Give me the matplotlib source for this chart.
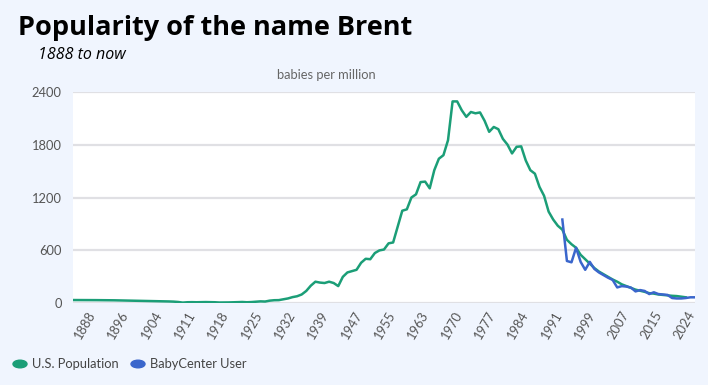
import matplotlib.pyplot as plt
import numpy as np

# U.S. population, babies per million, 1888-2022
us_years = list(range(1888, 2023))
us_values = [
    37, 37, 37, 36, 36, 36, 35, 35, 35, 34,          # 1888-1897
    33, 32, 31, 30, 29, 28, 27, 26, 25, 24,          # 1898-1907
    23, 21, 19, 15, 8, 12, 13, 12, 13, 14,           # 1908-1917
    13, 12, 9, 9, 10, 11, 13, 15, 12, 14,            # 1918-1927
    18, 22, 20, 30, 35, 36, 45, 55, 70, 80,          # 1928-1937
    100, 140, 200, 245, 235, 230, 245, 230, 195, 300,  # 1938-1947
    350, 365, 380, 460, 505, 500, 570, 600, 610, 680,  # 1948-1957
    690, 870, 1050, 1066, 1200, 1236, 1375, 1380, 1304, 1510,  # 1958-1967
    1640, 1680, 1850, 2290, 2290, 2190, 2115, 2170, 2155, 2165,  # 1968-1977
    2070, 1945, 2000, 1975, 1865, 1800, 1700, 1775, 1780, 1620,  # 1978-1987
    1510, 1470, 1320, 1220, 1040, 950, 880, 835, 720, 670,  # 1988-1997
    630, 550, 500, 450, 400, 360, 330, 300, 270, 245,  # 1998-2007
    215, 195, 175, 155, 143, 130, 115, 110, 100, 95,   # 2008-2017
    90, 85, 82, 75, 68,                                # 2018-2022
]

# BabyCenter users, 1995-2024
bc_years = list(range(1995, 2025))
bc_values = [
    950, 480, 465, 630, 470, 380, 470, 390, 350, 320,
    290, 265, 180, 195, 190, 178, 135, 150, 140, 105,
    125, 105, 100, 95, 60, 55, 55, 60, 68, 68,
]

tick_labels = ["1888", "1896", "1904", "1911", "1918", "1925", "1932",
               "1939", "1947", "1955", "1963", "1970", "1977", "1984",
               "1991", "1999", "2007", "2015", "2024"]
y_ticks = [0, 600, 1200, 1800, 2400]

GREEN = "#1b9e77"
BLUE = "#3a66cc"
BG = "#f0f5fe"
GREY = "#555555"

fig = plt.figure(figsize=(7.08, 3.85), dpi=100, facecolor=BG)
ax = fig.add_axes([0.1031, 0.2122, 0.8785, 0.5496])
ax.set_facecolor("white")

ax.plot(us_years, us_values, color=GREEN, lw=1.8, solid_joinstyle="round",
        zorder=3)
ax.plot(bc_years, bc_values, color=BLUE, lw=1.8, solid_joinstyle="round",
        zorder=4)

ax.set_xlim(1888, 2024)
ax.set_ylim(0, 2400)
ax.set_yticks(y_ticks)
ax.set_yticklabels([str(v) for v in y_ticks], fontfamily="Lato",
                   fontsize=9.3, color=GREY)
ax.yaxis.grid(True, color="#e0e0e4", lw=1.6, zorder=0)
ax.set_axisbelow(True)
for s in ax.spines.values():
    s.set_visible(False)
ax.tick_params(axis="y", length=0, pad=8)

tick_pos = np.linspace(1890.6, 2021.8, len(tick_labels))
ax.set_xticks(tick_pos)
ax.set_xticklabels(tick_labels, rotation=60, ha="center", va="top",
                   fontfamily="Lato", fontsize=9.3, color=GREY)
ax.tick_params(axis="x", length=0, pad=4)

fig.text(18 / 708, 1 - 35 / 385, "Popularity of the name Brent",
         fontfamily="Open Sans", fontweight="bold", fontsize=19.5,
         color="black", va="baseline")
fig.text(38 / 708, 1 - 59 / 385, "1888 to now", fontfamily="Open Sans",
         fontstyle="italic", fontsize=11.5, color="black", va="baseline")
fig.text(326 / 708, 1 - 75 / 385, "babies per million", fontfamily="Lato",
         fontsize=9.3, color="#666666", ha="center", va="center")

# legend
for cx, col, label in [(20, GREEN, "U.S. Population"),
                       (138, BLUE, "BabyCenter User")]:
    fig.patches.append(plt.Circle((cx / 708, 1 - 364 / 385), 7 / 708,
                                  transform=fig.transFigure, color=col,
                                  figure=fig))
    fig.text((cx + 12) / 708, 1 - 364 / 385, label, fontfamily="Lato",
             fontsize=9.3, color="#444444", va="center")

fig.savefig("out.png", dpi=100, facecolor=BG)
